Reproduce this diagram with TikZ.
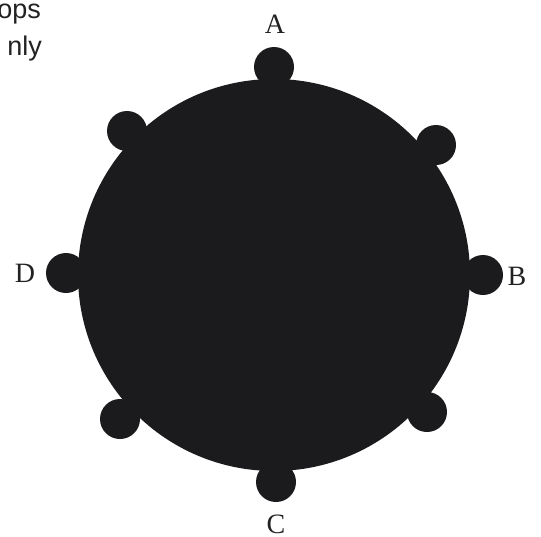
\documentclass[tikz,border=0pt]{standalone}
\usepackage{fontspec}
\setmainfont{Liberation Serif}
\newfontfamily\labsans{Liberation Sans}
\definecolor{blobc}{HTML}{1B1B1D}
\definecolor{txtc}{HTML}{222222}
\begin{document}
\begin{tikzpicture}[x=1pt,y=-1pt,
  blob/.style={fill=blobc,draw=none,circle,inner sep=0pt},
  bump/.style={fill=blobc,draw=none,circle,minimum size=40pt,inner sep=0pt},
  lab/.style={font=\fontsize{28}{30}\selectfont,text=txtc,inner sep=0pt},
  side/.style={font=\labsans\fontsize{27}{37}\selectfont,text=txtc,inner sep=0pt,anchor=base east}]
\useasboundingbox (0,0) rectangle (541,536);
\clip (0,0) rectangle (541,536);
\node[blob,minimum size=392pt] (main) at (274,275) {};
\node[bump] (bA) at (274,67) {};
\node[bump] (bB) at (483,275) {};
\node[bump] (bC) at (276,482) {};
\node[bump] (bD) at (66,273) {};
\node[bump] (bTL) at (127,131) {};
\node[bump] (bTR) at (436,145) {};
\node[bump] (bBL) at (120,419) {};
\node[bump] (bBR) at (427,412) {};
\node[lab] (lA) at (275,24) {A};
\node[lab] (lB) at (517,276) {B};
\node[lab] (lC) at (276,524) {C};
\node[lab] (lD) at (25,273) {D};
\node[side] (t1) at (41,18) {ops};
\node[side] (t2) at (42,55) {nly};
\end{tikzpicture}
\end{document}
